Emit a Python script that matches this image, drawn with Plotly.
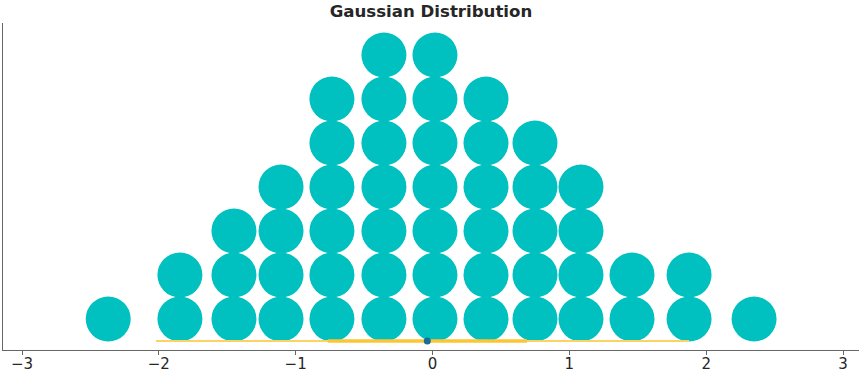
import plotly.graph_objects as go

# Column centres (x) and number of stacked dots per column
col_x = [-2.37, -1.846, -1.451, -1.107, -0.735, -0.355, 0.018, 0.391, 0.749, 1.085, 1.458, 1.875, 2.35]
col_n = [1, 2, 3, 4, 6, 7, 7, 6, 5, 4, 2, 2, 1]

# Summary: HDI (thin), interquartile (thick), point estimate
hdi = [-2.02, 1.875]
iqr = [-0.763, 0.69]
point_est = -0.038
x_ticks = [-3, -2, -1, 0, 1, 2, 3]

xs, ys = [], []
for cx, n in zip(col_x, col_n):
    for k in range(n):
        xs.append(cx)
        ys.append(k)

fig = go.Figure()
fig.add_trace(go.Scatter(x=xs, y=ys, mode="markers",
                         marker=dict(size=45, color="#00c0c0", line=dict(width=0)),
                         hoverinfo="x"))
fig.add_trace(go.Scatter(x=hdi, y=[-0.5, -0.5], mode="lines",
                         line=dict(color="#fcd260", width=2)))
fig.add_trace(go.Scatter(x=iqr, y=[-0.5, -0.5], mode="lines",
                         line=dict(color="#fbc634", width=3.5)))
fig.add_trace(go.Scatter(x=[point_est], y=[-0.5], mode="markers",
                         marker=dict(size=7, color="#186f95", line=dict(width=0))))

fig.update_layout(
    template="none",
    width=862, height=375,
    margin=dict(l=3, r=3, t=23, b=25),
    plot_bgcolor="white", paper_bgcolor="white",
    showlegend=False,
    font=dict(family="DejaVu Sans", size=15, color="#262626"),
    title=dict(text="<b>Gaussian Distribution</b>", x=0.5, xanchor="center",
               y=1 - 11.5 / 375, yanchor="middle",
               font=dict(family="DejaVu Sans", size=16.6, color="#262626")),
    xaxis=dict(range=[-3.1389, 3.1169], tickvals=x_ticks,
               ticktext=["\u22123", "\u22122", "\u22121", "0", "1", "2", "3"],
               showgrid=False, zeroline=False, automargin=False,
               showline=True, linecolor="#666666", linewidth=1.3,
               ticks="outside", ticklen=4, tickcolor="#666666", tickwidth=1.2,
               ticklabelstandoff=-4,
               tickfont=dict(size=15, color="#262626")),
    yaxis=dict(range=[-0.705, 6.727], showticklabels=False, showgrid=False,
               zeroline=False, showline=True, linecolor="#666666", linewidth=1.3,
               ticks="", automargin=False),
)

fig.write_html("out.html")
